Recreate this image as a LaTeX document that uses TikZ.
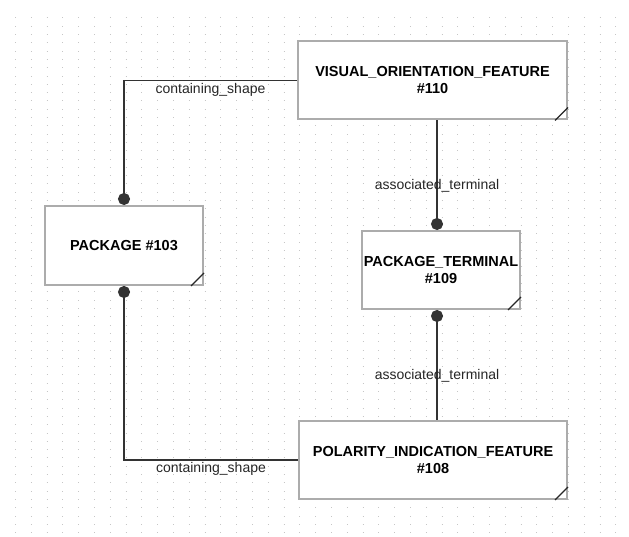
\documentclass[tikz,border=0pt]{standalone}
\usepackage{fontspec}
\setmainfont{Liberation Sans}
\usetikzlibrary{arrows.meta,positioning,calc}
\tikzset{
  entity/.style={draw=gray!65, line width=2pt, fill=white, align=center,
    font=\fontsize{14.5}{17}\selectfont\bfseries, text=black, inner sep=0pt},
  rel/.style={draw=black!80, line width=1.5pt},
  dot/.tip={Circle[length=12pt]},
  rellabel/.style={font=\fontsize{14}{16}\selectfont, text=black!85, inner sep=2pt},
  griddot/.style={gray!45, line width=1pt, dash pattern=on 1pt off 14.8pt},
  cornermark/.style={black!85, line width=1.3pt}
}

\begin{document}
\begin{tikzpicture}[x=1pt, y=-1pt]
    \useasboundingbox (0,0) rectangle (629,537);
    \fill[white] (0,0) rectangle (629,537);

    % dotted grid
    \foreach \gy in {18,26.3,...,533}
        \draw[griddot] (15,\gy) -- (618,\gy);

    % entities
    \node[entity, minimum width=269pt, minimum height=78pt] (vof) at (432.5,80.5)
        {VISUAL\_ORIENTATION\_FEATURE\\\#110};
    \node[entity, minimum width=158pt, minimum height=79pt] (pkg) at (124,245.5)
        {PACKAGE \#103};
    \node[entity, minimum width=158pt, minimum height=78pt] (term) at (441,270)
        {PACKAGE\_TERMINAL\\\#109};
    \node[entity, minimum width=268pt, minimum height=78pt] (pif) at (433,460)
        {POLARITY\_INDICATION\_FEATURE\\\#108};

    % folded corners
    \foreach \n in {vof,pkg,term,pif}
        \draw[cornermark] ([xshift=-13pt]\n.south east) -- ([yshift=13pt]\n.south east);

    % containing_shape
    \draw[rel, -{dot}] (vof.west) -| node[rellabel, below, pos=0.25] {containing\_shape} (pkg.north);
    \draw[rel, {dot}-] (pkg.south) |- node[rellabel, below, pos=0.75] {containing\_shape} (pif.west);

    % associated_terminal
    \coordinate (vx) at (437,0);
    \draw[rel, -{dot}] (vof.south -| vx) -- node[rellabel, pos=0.6] {associated\_terminal} (term.north -| vx);
    \draw[rel, {dot}-] (term.south -| vx) -- node[rellabel, pos=0.6] {associated\_terminal} (pif.north -| vx);
\end{tikzpicture}
\end{document}
